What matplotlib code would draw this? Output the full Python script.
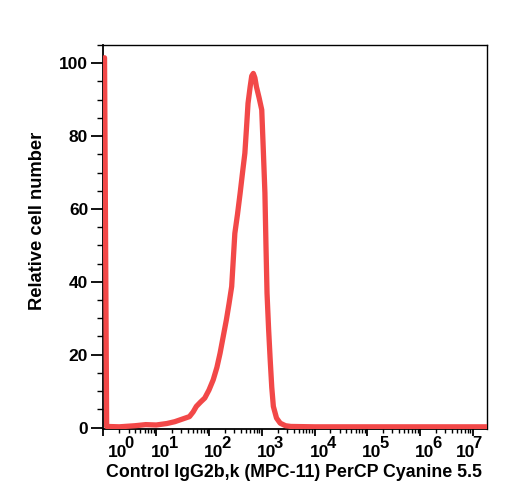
import matplotlib
matplotlib.use('Agg')
import matplotlib.pyplot as plt
import matplotlib.transforms as mtransforms
import numpy as np

matplotlib.rcParams.update({
    'font.family': 'Liberation Sans',
    'font.weight': 'bold',
})

# histogram: decade exponent of intensity, relative count
log_intensity = [0.02, 0.06, 0.3, 0.6, 0.8, 1.0, 1.2, 1.35, 1.45, 1.55, 1.63,
                 1.7, 1.76, 1.84, 1.92, 2.0, 2.08, 2.15, 2.21, 2.27, 2.33,
                 2.38, 2.43, 2.46, 2.49, 2.54, 2.59, 2.64, 2.68, 2.71, 2.74,
                 2.78, 2.81, 2.84, 2.87, 2.9, 2.95, 3.0, 3.03, 3.06, 3.08,
                 3.1, 3.13, 3.16, 3.19, 3.22, 3.28, 3.35, 3.45, 3.55, 4.0,
                 5.0, 6.0, 7.0, 7.3]
rel_count = [101.5, 0.3, 0.2, 0.5, 0.8, 0.7, 1.1, 1.6, 2.1, 2.6, 3.0,
             4.3, 5.8, 7.0, 8.1, 10.3, 13.1, 16.5, 20.4, 25.0, 29.6,
             34.0, 38.7, 46.0, 53.3, 58.5, 64.3, 70.5, 75.3, 82.0, 89.0,
             93.5, 96.5, 97.2, 96.0, 93.5, 90.5, 87.2, 76.0, 64.4, 50.0,
             36.9, 27.0, 18.6, 11.0, 5.8, 2.6, 1.2, 0.5, 0.3, 0.2,
             0.2, 0.2, 0.2, 0.2]

x_decades = [0, 1, 2, 3, 4, 5, 6, 7]
y_ticks = [0, 20, 40, 60, 80, 100]

LINE_COLOR = "#F24848"

fig = plt.figure(figsize=(5.08, 5.00), dpi=100)
ax = fig.add_axes([0.2037, 0.142, 0.7550, 0.768])

x = [10 ** v for v in log_intensity]
ax.plot(x, rel_count, color=LINE_COLOR, lw=3.8, solid_joinstyle='round',
        solid_capstyle='round', zorder=3)

ax.set_xscale('log')
ax.set_xlim(1, 10 ** 7.27)
ax.set_ylim(-0.4, 105)

ax.set_xticks([10 ** d for d in x_decades])
ax.xaxis.set_minor_locator(matplotlib.ticker.LogLocator(base=10, subs=np.arange(2, 10), numticks=20))
ax.set_xticklabels([])
ax.xaxis.set_minor_formatter(matplotlib.ticker.NullFormatter())

ax.set_yticks(y_ticks)
ax.set_yticklabels([str(v) for v in y_ticks], fontsize=12.5, fontweight='bold')
ax.yaxis.set_minor_locator(matplotlib.ticker.MultipleLocator(5))

ax.tick_params(axis='y', which='major', direction='out', length=9, width=1.3, pad=2)
ax.tick_params(axis='y', which='minor', direction='out', length=4, width=1.0)
ax.tick_params(axis='x', which='major', direction='out', length=5, width=1.3)
ax.tick_params(axis='x', which='minor', direction='out', length=3, width=1.0)

for side in ['left', 'bottom']:
    ax.spines[side].set_linewidth(1.3)
for side in ['top', 'right']:
    ax.spines[side].set_linewidth(1.0)

# decade labels: "10" plus a large raised exponent, drawn as two texts
xt = ax.get_xaxis_transform()
for d in x_decades:
    if d == 0:
        off, ha = 4, 'left'
    elif d == x_decades[-1]:
        off, ha = 2, 'right'
    else:
        off, ha = -5, 'left'
    tr = xt + mtransforms.ScaledTranslation(off / 100, -16 / 100, fig.dpi_scale_trans)
    base = ax.text(10 ** d, 0, '10', transform=tr, ha=ha, va='top',
                   fontsize=12.5, fontweight='bold')
    ax.annotate(str(d), xy=(1, 1), xycoords=base, xytext=(-1.5, -4.5),
                textcoords='offset points', ha='left', va='bottom',
                fontsize=12, fontweight='bold', annotation_clip=False)

ax.set_xlabel("Control IgG2b,k (MPC-11) PerCP Cyanine 5.5", fontsize=12.8,
              fontweight='bold')
ax.xaxis.set_label_coords(0.497, -0.09)
ax.xaxis.label.set_va('top')
ax.set_ylabel("Relative cell number", fontsize=13.2, fontweight='bold')
ax.yaxis.set_label_coords(-0.149, 0.542)

plt.savefig("out.png", dpi=100)
plt.close()
